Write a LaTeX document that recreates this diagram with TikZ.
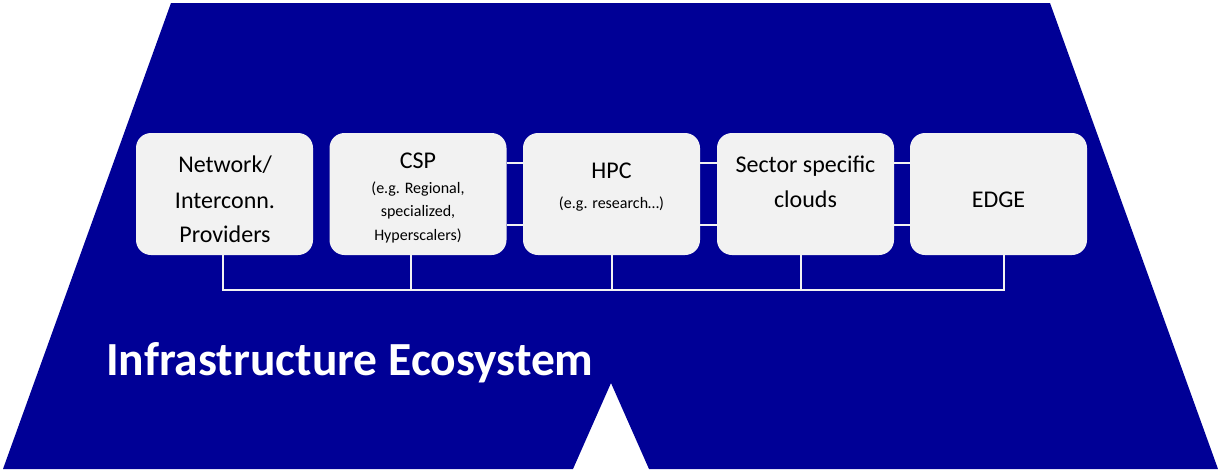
\documentclass[tikz,border=0pt]{standalone}
\usepackage{fontspec}
\setmainfont{Carlito}
\definecolor{bgblue}{RGB}{0,0,150}
\definecolor{boxgray}{RGB}{242,242,242}
\tikzset{
  stagebox/.style={fill=boxgray, draw=none, rounded corners=15pt, minimum width=177pt, minimum height=122pt, inner sep=0pt},
  bigtxt/.style={anchor=base, inner sep=0pt, font=\fontsize{24}{28}\selectfont, text=black},
  smalltxt/.style={anchor=base, inner sep=0pt, font=\fontsize{16}{19}\selectfont, text=black},
  link/.style={draw=boxgray, line width=2pt},
}
\begin{document}
\begin{tikzpicture}[x=1pt,y=-1pt]
\useasboundingbox (0,0) rectangle (1218,469);
% background shape
\fill[bgblue] (171,3) -- (1050,3) -- (1218,469) -- (649,469) -- (611,383) -- (573,469) -- (3,469) -- cycle;
% boxes
\node[stagebox] (b1) at (224.5,194) {};
\node[stagebox] (b2) at (418,194) {};
\node[stagebox] (b3) at (611.5,194) {};
\node[stagebox] (b4) at (805.5,194) {};
\node[stagebox] (b5) at (998.5,194) {};
% links between boxes
\draw[link] ([yshift=31pt]b2.east) -- ([yshift=31pt]b3.west);
\draw[link] ([yshift=-31pt]b2.east) -- ([yshift=-31pt]b3.west);
\draw[link] ([yshift=31pt]b3.east) -- ([yshift=31pt]b4.west);
\draw[link] ([yshift=-31pt]b3.east) -- ([yshift=-31pt]b4.west);
\draw[link] ([yshift=31pt]b4.east) -- ([yshift=31pt]b5.west);
\draw[link] ([yshift=-31pt]b4.east) -- ([yshift=-31pt]b5.west);
% bus
\coordinate (t1) at (223,290);
\coordinate (t2) at (411,290);
\coordinate (t3) at (612,290);
\coordinate (t4) at (801,290);
\coordinate (t5) at (1004,290);
\draw[link] (b1.south -| t1) -- (t1);
\draw[link] (b2.south -| t2) -- (t2);
\draw[link] (b3.south -| t3) -- (t3);
\draw[link] (b4.south -| t4) -- (t4);
\draw[link] (b5.south -| t5) -- (t5);
\draw[link, line cap=rect] (t1) -- (t5);
% texts
\node[bigtxt] (n1a) at (225,172) {Network/};
\node[bigtxt] (n1b) at (225,208) {Interconn.};
\node[bigtxt] (n1c) at (225,242) {Providers};
\node[bigtxt] (n2a) at (418,168) {CSP};
\node[smalltxt] (n2b) at (418,193) {(e.g. Regional,};
\node[smalltxt] (n2c) at (418,216) {specialized,};
\node[smalltxt] (n2d) at (418,240) {Hyperscalers)};
\node[bigtxt] (n3a) at (611.5,178) {HPC};
\node[smalltxt] (n3b) at (611.5,208) {(e.g. research…)};
\node[bigtxt] (n4a) at (805.5,172) {Sector specific};
\node[bigtxt] (n4b) at (805.5,207) {clouds};
\node[bigtxt] (n5a) at (998.5,207) {EDGE};
\node[anchor=base west, inner sep=0pt, text=white, font=\fontsize{47.5}{57}\selectfont\bfseries] (title) at (106,375) {Infrastructure Ecosystem};
\end{tikzpicture}
\end{document}
